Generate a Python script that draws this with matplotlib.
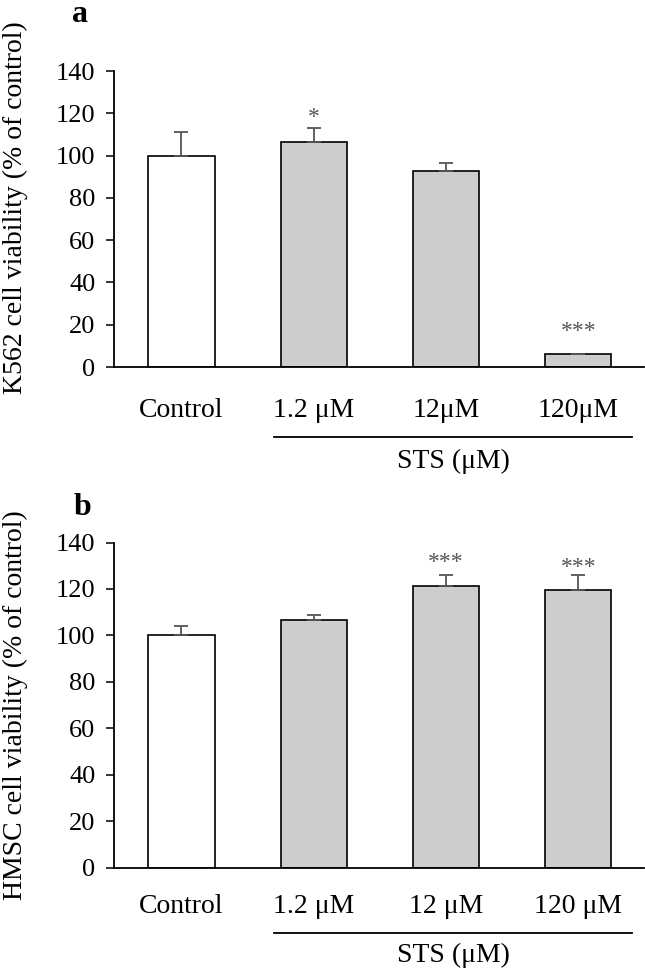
import matplotlib
matplotlib.use("Agg")
import matplotlib.pyplot as plt
import matplotlib.transforms as mtransforms

plt.rcParams['font.family'] = ['Liberation Serif', 'DejaVu Serif']

labels_a = ["Control", "1.2 μM", "12μM", "120μM"]
labels_b = ["Control", "1.2 μM", "12 μM", "120 μM"]
k562_mean = [100.0, 106.6, 92.6, 6.0]
k562_sd = [11.0, 6.5, 4.0, 0.3]
k562_sig = ["", "*", "", "***"]
k562_sig_y = [0, 118.0, 0, 16.8]
hmsc_mean = [100.0, 106.6, 121.4, 119.5]
hmsc_sd = [4.0, 2.2, 4.6, 6.4]
hmsc_sig = ["", "", "***", "***"]
hmsc_sig_y = [0, 0, 131.5, 129.2]
colors = ["white", "#cdcdcd", "#cdcdcd", "#cdcdcd"]
yticks = [0, 20, 40, 60, 80, 100, 120, 140]

W, H = 645, 971
fig = plt.figure(figsize=(W / 100, H / 100), dpi=100)


def px_axes(left, right, top, bottom):
    return fig.add_axes([left / W, 1 - bottom / H, (right - left) / W, (bottom - top) / H])


def panel(ax, means, sds, sigs, sig_y, labels, ylab, letter, lab_y, line_y, sts_y,
          ylab_center, letter_xy):
    x = list(range(len(means)))
    ax.bar(x, means, width=0.5, color=colors, edgecolor="black", linewidth=1.2, zorder=2)
    lower = [0] * len(sds)
    ax.errorbar(x, means, yerr=[lower, sds], fmt="none", ecolor="#555555",
                elinewidth=1.3, capsize=5, capthick=1.3, zorder=3)
    for xi, sy, sig in zip(x, sig_y, sigs):
        if sig:
            ax.text(xi, sy, sig, ha="center", va="center",
                    fontsize=17, color="#555555")
    ax.set_xlim(-0.51, 3.496)
    ax.set_ylim(0, 140)
    ax.set_yticks(yticks)
    ax.tick_params(axis="y", length=5.5, width=1.1, pad=8, labelsize=19, direction="out")
    ax.set_xticks([])
    for s in ["top", "right"]:
        ax.spines[s].set_visible(False)
    for s in ["left", "bottom"]:
        ax.spines[s].set_linewidth(1.3)
    trans = mtransforms.blended_transform_factory(ax.transData, ax.transAxes)
    for xi, lab in zip(x, labels):
        ax.text(xi, lab_y, lab, transform=trans, ha="center", va="center", fontsize=20)
    ax.plot([0.70, 3.405], [line_y, line_y], transform=trans, color="black",
            linewidth=1.3, clip_on=False)
    ax.text((0.70 + 3.405) / 2, sts_y, "STS (μM)", transform=trans, ha="center",
            va="center", fontsize=20)
    fig.text(15 / W, 1 - ylab_center / H, ylab, rotation=90, ha="center", va="center",
             fontsize=20)
    fig.text(letter_xy[0] / W, 1 - letter_xy[1] / H, letter, ha="center", va="baseline",
             fontsize=23, fontweight="bold")


ax_a = px_axes(114, 644, 71, 367)
panel(ax_a, k562_mean, k562_sd, k562_sig, k562_sig_y, labels_a,
      "K562 cell viability (% of control)", "a",
      lab_y=-0.1485, line_y=-0.2365, sts_y=-0.3176, ylab_center=208,
      letter_xy=(80, 22))

ax_b = px_axes(114, 644, 542.5, 867.5)
panel(ax_b, hmsc_mean, hmsc_sd, hmsc_sig, hmsc_sig_y, labels_b,
      "HMSC cell viability (% of control)", "b",
      lab_y=-0.1185, line_y=-0.2015, sts_y=-0.269, ylab_center=705,
      letter_xy=(82, 515))

fig.savefig("out.png", dpi=100)
